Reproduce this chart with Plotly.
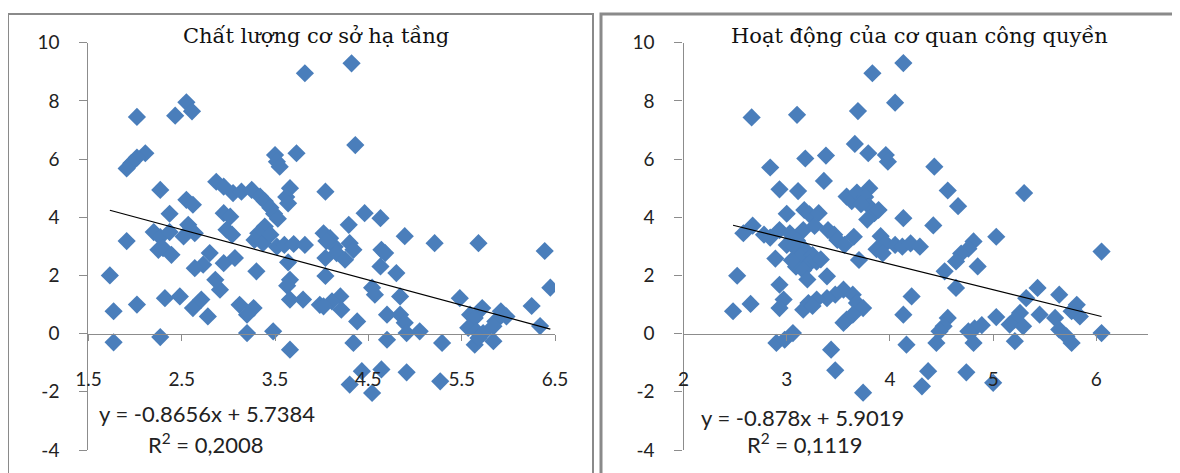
import plotly.graph_objects as go

W, H = 1180, 473

# ---------------- data ----------------
left_title = "Chất lượng cơ sở hạ tầng"
right_title = "Hoạt động của cơ quan công quyền"

left_x = [4.32, 3.82, 2.55, 2.61, 2.43, 2.02,
          4.36, 3.73, 3.50, 3.52, 3.55,
          2.11, 2.02, 1.96, 1.91,
          2.27, 4.04,
          2.87, 2.95, 3.05, 3.14, 3.25, 3.34, 3.39,
          3.66, 3.62, 3.64,
          2.55, 2.62, 2.37,
          3.45, 3.49, 3.53,
          4.46, 4.63, 4.29,
          2.95, 3.02,
          4.89, 5.21, 5.68, 6.39, 6.45, 6.25, 6.34,
          3.39, 3.32, 3.28, 3.37, 3.45, 3.52,
          2.98, 3.04,
          4.02, 4.09, 4.14,
          2.57, 2.64, 2.52,
          2.20, 2.27, 2.37, 2.25, 2.30, 2.39,
          3.60, 3.70, 3.82,
          1.91,
          4.05, 4.30, 4.04, 4.16, 4.25, 4.34, 4.04,
          4.64, 4.68, 4.63, 4.80,
          2.80, 2.73, 2.64, 2.95, 3.07,
          3.64, 3.66, 3.63,
          3.30,
          1.73, 2.91, 2.86,
          4.54, 4.57, 4.84, 5.48,
          1.77, 2.02, 2.32, 2.48,
          2.62, 2.71, 2.78,
          3.12, 3.27, 3.20,
          3.66, 3.80, 3.98,
          4.20, 4.11, 4.02, 4.21, 4.38,
          4.70, 4.84, 4.89, 4.91, 5.05,
          5.59, 5.64, 5.72, 5.57, 5.66, 5.73, 5.64, 5.68,
          5.92, 5.98, 5.86, 5.84, 5.84,
          3.20, 3.48,
          1.77, 2.27, 3.66,
          4.34, 4.70, 5.29,
          4.43, 4.64, 4.91, 4.30, 4.54, 5.27]
left_y = [9.29, 8.95, 7.95, 7.64, 7.49, 7.45,
          6.48, 6.20, 6.14, 5.91, 5.74,
          6.20, 6.05, 5.86, 5.68,
          4.94, 4.88,
          5.22, 5.05, 4.83, 4.88, 4.94, 4.71, 4.55,
          5.00, 4.70, 4.48,
          4.60, 4.43, 4.12,
          4.33, 4.12, 3.95,
          4.14, 3.97, 3.74,
          4.14, 4.02,
          3.35, 3.11, 3.11, 2.84, 1.58, 0.95, 0.26,
          3.68, 3.45, 3.22, 3.11, 3.40, 2.99,
          3.57, 3.40,
          3.45, 3.28, 2.99,
          3.74, 3.45, 3.34,
          3.49, 3.32, 3.49, 2.88, 2.94, 2.71,
          3.05, 3.08, 3.05,
          3.18,
          3.18, 3.11, 2.60, 2.77, 2.54, 2.88, 1.98,
          2.88, 2.77, 2.31, 2.08,
          2.77, 2.37, 2.25, 2.42, 2.60,
          2.45, 1.85, 1.65,
          2.14,
          2.00, 1.51, 1.85,
          1.58, 1.34, 1.28, 1.22,
          0.77, 1.00, 1.22, 1.28,
          0.88, 1.17, 0.59,
          0.99, 0.88, 0.65,
          1.17, 1.17, 0.99,
          1.28, 1.11, 0.94, 0.82, 0.42,
          0.65, 0.65, 0.37, 0.02, 0.08,
          0.65, 0.54, 0.88, 0.20, 0.08, 0.02, -0.38, -0.15,
          0.77, 0.59, 0.42, 0.25, -0.26,
          0.02, 0.08,
          -0.30, -0.12, -0.55,
          -0.32, -0.21, -0.32,
          -1.29, -1.23, -1.33, -1.75, -2.04, -1.64]

right_x = [4.13, 3.83, 4.05, 3.69, 2.66, 3.10, 3.66, 3.79, 3.96, 3.98, 3.38, 3.18, 2.84, 3.36,
           4.43, 5.30, 2.93, 3.11, 4.56, 4.66,
           3.58, 3.63, 3.68, 3.80, 3.76, 3.80, 3.85, 3.89, 3.78, 3.72,
           3.00, 3.17, 3.22, 3.31,
           4.13, 4.42,
           2.67, 2.58, 2.78, 2.84,
           2.93, 3.03, 3.16, 3.27, 3.40, 3.46, 3.49, 3.56, 3.65, 3.10, 3.00,
           5.03,
           3.91, 3.96, 4.05, 4.12, 4.20, 4.29, 3.87, 3.93,
           6.05,
           3.07, 3.18, 3.13, 3.25, 3.22, 3.29, 3.09, 3.16, 3.20, 3.33, 3.05,
           3.70, 2.89,
           4.81, 4.76, 4.69, 4.64, 4.85,
           4.53, 4.64,
           2.52,
           2.93, 2.97, 2.93,
           3.39,
           4.21,
           5.43, 5.32, 5.64, 5.81, 5.84, 5.76, 5.45, 5.60, 5.26, 5.21, 5.16, 5.29, 5.03,
           3.55, 3.47, 3.39, 3.29, 3.21, 3.16, 3.64, 3.68, 3.74, 3.64, 3.58, 3.55, 3.25,
           2.48, 2.65,
           4.13,
           4.89, 4.82, 4.76, 4.81, 4.56, 4.52, 4.48, 4.45,
           5.21, 5.64, 5.71, 5.76, 6.05,
           2.90, 2.98, 3.06,
           3.43, 3.47, 3.74, 4.16, 4.37, 4.31, 4.74, 5.00]
right_y = [9.30, 8.95, 7.94, 7.65, 7.43, 7.52, 6.52, 6.20, 6.14, 5.91, 6.12, 6.02, 5.71, 5.25,
           5.74, 4.83, 4.96, 4.90, 4.92, 4.38,
           4.71, 4.55, 4.85, 5.00, 4.70, 4.37, 4.14, 4.25, 3.92, 4.45,
           4.12, 4.25, 4.10, 4.14,
           3.97, 3.72,
           3.71, 3.45, 3.40, 3.30,
           3.56, 3.45, 3.56, 3.70, 3.56, 3.40, 3.22, 3.05, 3.33, 3.20, 3.05,
           3.33,
           3.35, 3.10, 3.05, 2.99, 3.10, 2.99, 2.90, 2.76,
           2.82,
           2.99, 2.87, 2.64, 2.70, 2.41, 2.47, 2.30, 2.18, 1.86, 2.55, 2.52,
           2.53, 2.58,
           3.17, 2.92, 2.75, 2.48, 2.31,
           2.14, 1.57,
           1.99,
           1.68, 1.17, 0.88,
           1.97,
           1.28,
           1.57, 1.22, 1.34, 0.99, 0.59, 0.77, 0.65, 0.54, 0.71, 0.48, 0.31, 0.25, 0.57,
           1.51, 1.34, 1.22, 1.17, 1.05, 0.82, 1.34, 1.05, 0.88, 0.65, 0.48, 0.37, 0.95,
           0.77, 1.02,
           0.65,
           0.29, 0.18, 0.08, -0.32, 0.54, 0.25, 0.08, -0.32,
           -0.26, 0.14, -0.09, -0.32, 0.02,
           -0.32, -0.21, 0.02,
           -0.55, -1.26, -2.03, -0.38, -1.29, -1.81, -1.33, -1.69]

# regression lines as shown in the chart
left_slope, left_intercept = -0.8656, 5.7384
right_slope, right_intercept = -0.878, 5.9019
left_eq = "y = -0.8656x + 5.7384"
left_r2 = "R<sup>2</sup> = 0,2008"
right_eq = "y = -0.878x + 5.9019"
right_r2 = "R<sup>2</sup> = 0,1119"

left_ticks = [1.5, 2.5, 3.5, 4.5, 5.5, 6.5]
right_ticks = [2, 3, 4, 5, 6]
y_ticks = [-4, -2, 0, 2, 4, 6, 8, 10]

# ---------------- styles ----------------
BLUE = "#4A7EBB"
AXIS = "#8C8C8C"
TICKFONT = dict(family="Lato, Liberation Sans, sans-serif", size=19, color="#222")

fig = go.Figure()

# the page body adds an 8px offset; positions below are window pixels
OFF = 8

def px_x(p):
    return (p - OFF) / W

def px_y(p):
    return 1 - (p - OFF) / H

ydom = [px_y(450), px_y(42.7)]
zero_pos = px_y(334)

panels = [
    ("x", "y", left_x, left_y, left_slope, left_intercept, [px_x(88.4), px_x(555)], [1.5, 6.5], left_ticks),
    ("x2", "y2", right_x, right_y, right_slope, right_intercept, [px_x(683.5), px_x(1148)], [2, 6.5], right_ticks),
]

for xa, ya, xs, ys, m, b, dom, rng, ticks in panels:
    fig.add_trace(go.Scatter(
        x=xs, y=ys, mode="markers", xaxis=xa, yaxis=ya,
        marker=dict(symbol="diamond", size=14, color=BLUE, line=dict(width=0)),
        showlegend=False, hoverinfo="x+y"))
    x0, x1 = min(xs), max(xs)
    fig.add_trace(go.Scatter(
        x=[x0, x1], y=[m * x0 + b, m * x1 + b], mode="lines", xaxis=xa, yaxis=ya,
        line=dict(color="#000000", width=1.2), showlegend=False, hoverinfo="skip"))

common_x = dict(showgrid=False, zeroline=False, showline=True, linecolor=AXIS, linewidth=1.3,
                ticks="outside", ticklen=6, tickcolor=AXIS, tickwidth=1.3, automargin=False,
                tickfont=TICKFONT, ticklabelstandoff=22, anchor="free", position=zero_pos)
common_y = dict(showgrid=False, zeroline=False, showline=True, linecolor=AXIS, linewidth=1.3,
                ticks="outside", ticklen=8, tickcolor=AXIS, tickwidth=1.3, automargin=False,
                tickfont=TICKFONT, ticklabelstandoff=16, range=[-4, 10],
                tickvals=y_ticks, ticktext=[str(t) for t in y_ticks], domain=ydom)

fig.update_layout(
    template="none",
    width=W, height=H, margin=dict(l=0, r=0, t=0, b=0, pad=0, autoexpand=False),
    paper_bgcolor="white", plot_bgcolor="white",
    xaxis=dict(common_x, domain=panels[0][6], range=panels[0][7], tickvals=left_ticks,
               ticktext=[str(t) for t in left_ticks]),
    yaxis=dict(common_y, anchor="x"),
    xaxis2=dict(common_x, domain=panels[1][6], range=panels[1][7], tickvals=right_ticks,
                ticktext=[str(t) for t in right_ticks]),
    yaxis2=dict(common_y, anchor="x2"),
)

# panel borders
fig.add_shape(type="rect", xref="paper", yref="paper",
              x0=px_x(8), x1=px_x(593), y0=-0.1, y1=px_y(14),
              line=dict(color="#8A8A8A", width=2), fillcolor="rgba(0,0,0,0)", layer="below")
fig.add_shape(type="rect", xref="paper", yref="paper",
              x0=px_x(601), x1=1.1, y0=-0.1, y1=px_y(14),
              line=dict(color="#8A8A8A", width=3), fillcolor="rgba(0,0,0,0)", layer="below")

TITLEFONT = dict(family="DejaVu Serif, Liberation Serif, serif", size=21, color="#111")
EQFONT = dict(family="Lato, Liberation Sans, sans-serif", size=22, color="#222")

for txt, cx, cy, f in [
    (left_title, 316, 36, TITLEFONT),
    (right_title, 919, 36, TITLEFONT),
    (left_eq, 207, 413, EQFONT),
    (left_r2, 206, 443, EQFONT),
    (right_eq, 802, 417, EQFONT),
    (right_r2, 805, 443, EQFONT),
]:
    fig.add_annotation(text=txt, x=px_x(cx), y=px_y(cy), xref="paper", yref="paper",
                       xanchor="center", yanchor="middle", showarrow=False, font=f)

fig.write_html("out.html")
